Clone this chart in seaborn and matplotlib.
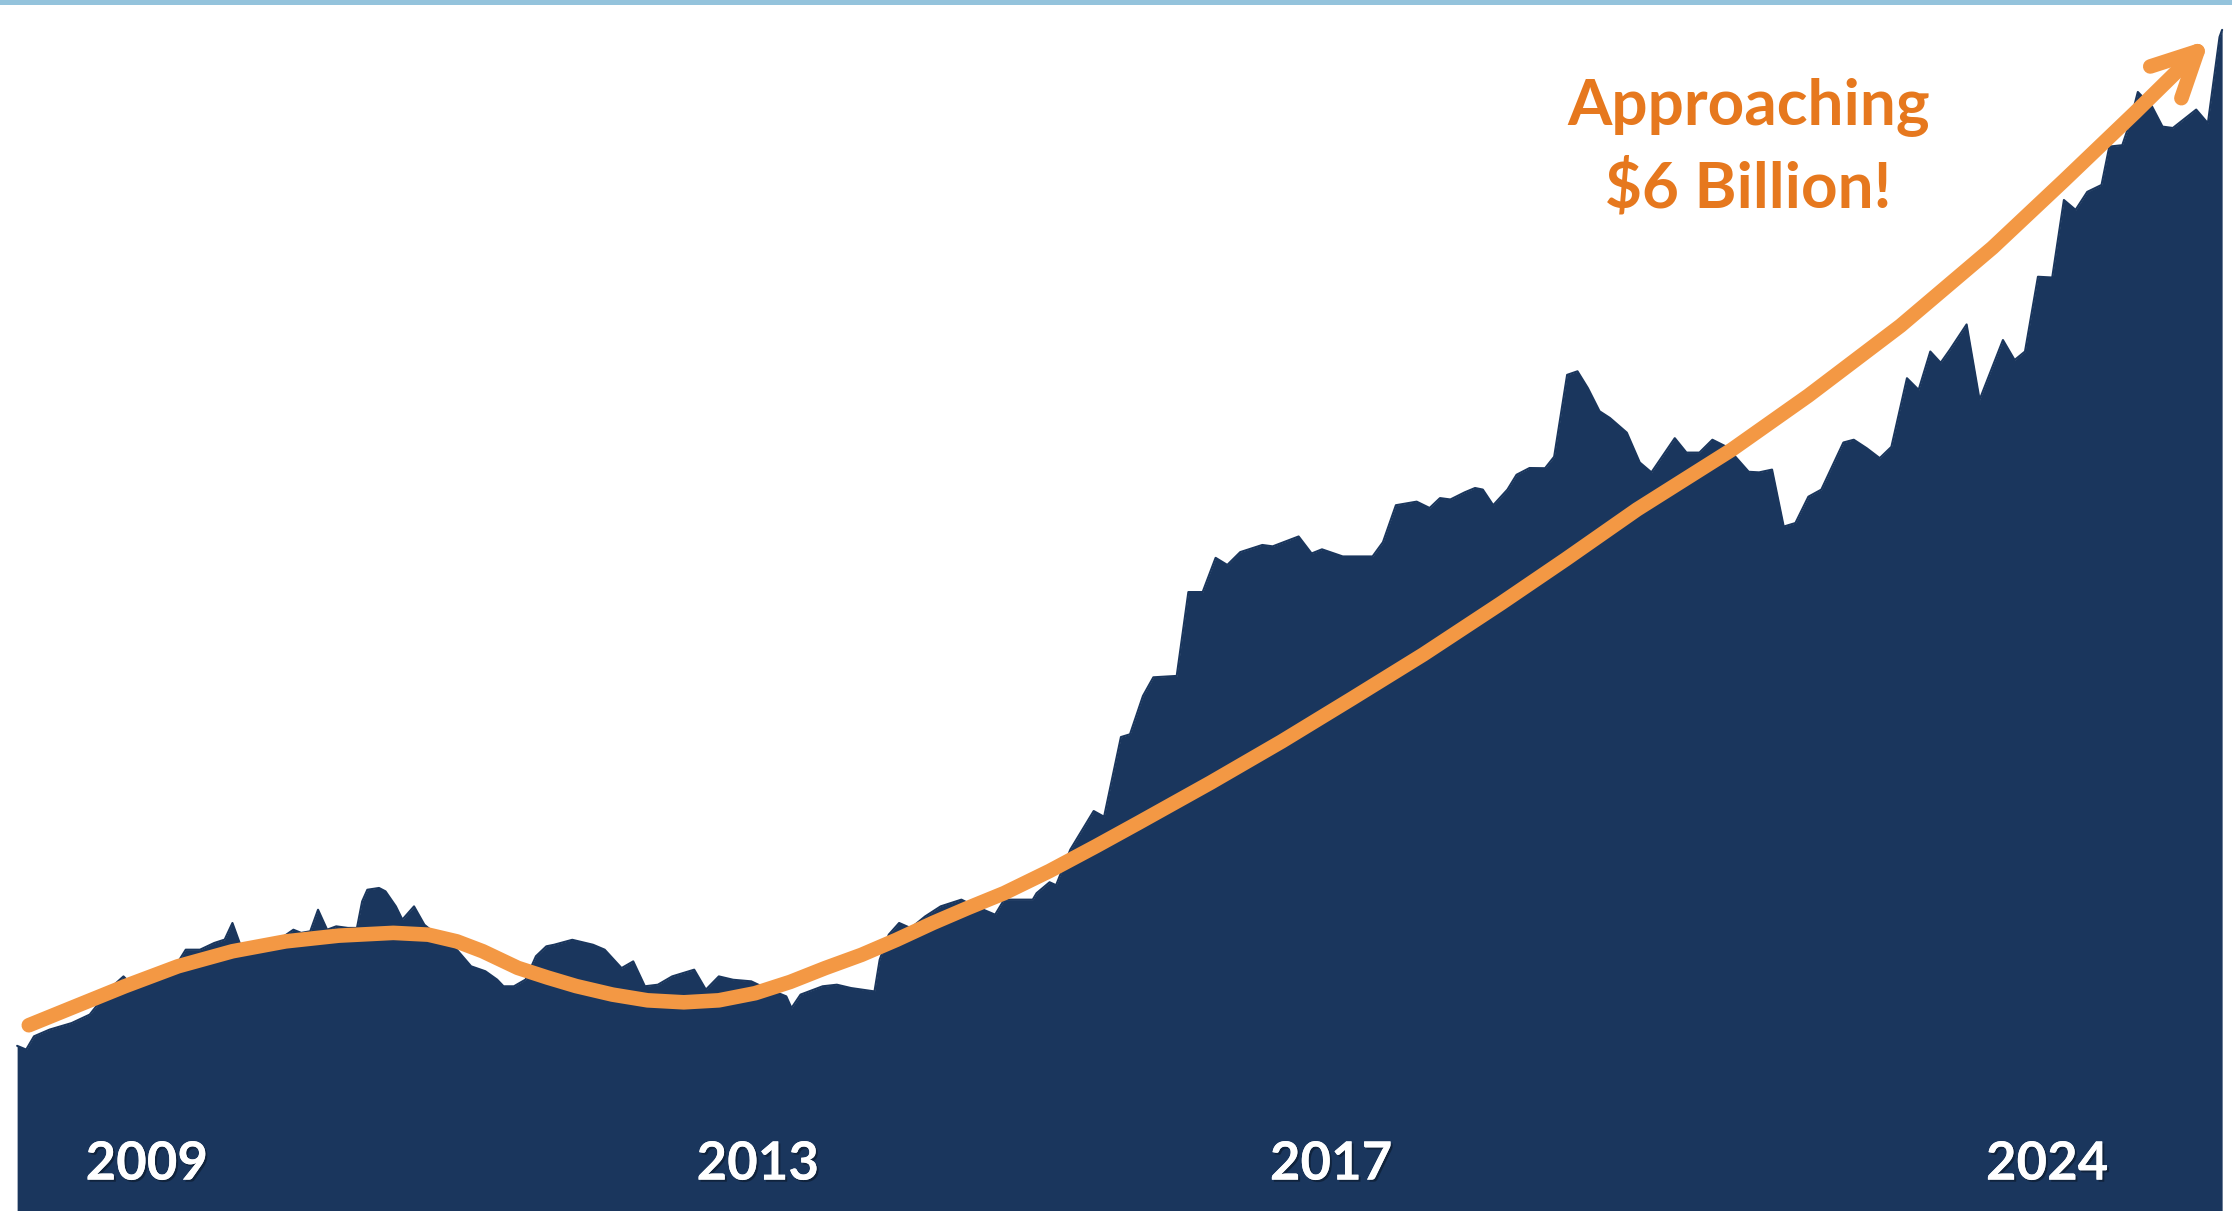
import numpy as np
import pandas as pd
import matplotlib
matplotlib.use("Agg")
import matplotlib.pyplot as plt
import matplotlib.patches as mpatches
import matplotlib.patheffects as pe
from matplotlib.path import Path
import seaborn as sns

# revenue history ($ billions)
years = [2008.00, 2008.07, 2008.13, 2008.25, 2008.42, 2008.56, 2008.72, 2008.82, 2008.87, 2009.00,
         2009.13, 2009.22, 2009.30, 2009.41, 2009.52, 2009.60, 2009.66, 2009.73, 2009.87, 2010.02,
         2010.13, 2010.19, 2010.26, 2010.32, 2010.39, 2010.46, 2010.55, 2010.62, 2010.66, 2010.70,
         2010.79, 2010.84, 2010.92, 2010.97, 2011.06, 2011.14, 2011.28, 2011.39, 2011.50, 2011.61,
         2011.70, 2011.75, 2011.83, 2011.92, 2012.00, 2012.08, 2012.14, 2012.28, 2012.44, 2012.53,
         2012.66, 2012.75, 2012.84, 2012.94, 2013.05, 2013.22, 2013.31, 2013.41, 2013.52, 2013.66,
         2013.74, 2013.93, 2013.97, 2014.04, 2014.21, 2014.32, 2014.43, 2014.61, 2014.65, 2014.72,
         2014.80, 2014.89, 2015.00, 2015.12, 2015.28, 2015.36, 2015.54, 2015.61, 2015.83, 2015.86,
         2015.96, 2016.01, 2016.12, 2016.30, 2016.38, 2016.51, 2016.58, 2016.68, 2016.76, 2016.94,
         2017.03, 2017.14, 2017.24, 2017.33, 2017.43, 2017.60, 2017.68, 2017.88, 2017.98, 2018.06,
         2018.22, 2018.45, 2018.53, 2018.63, 2018.79, 2018.89, 2018.97, 2019.05, 2019.16, 2019.24,
         2019.30, 2019.38, 2019.49, 2019.56, 2019.66, 2019.78, 2019.85, 2019.95, 2020.03, 2020.11,
         2020.20, 2020.28, 2020.41, 2020.51, 2020.60, 2020.78, 2020.87, 2020.97, 2021.07, 2021.18,
         2021.35, 2021.43, 2021.53, 2021.62, 2021.71, 2021.81, 2021.91, 2022.08, 2022.16, 2022.26,
         2022.36, 2022.45, 2022.57, 2022.66, 2022.75, 2022.83, 2022.90, 2023.03, 2023.13, 2023.31,
         2023.40, 2023.48, 2023.58, 2023.69, 2023.78, 2023.87, 2023.96, 2024.07, 2024.13, 2024.23,
         2024.29, 2024.35, 2024.46, 2024.54, 2024.62, 2024.80, 2024.89, 2024.98, 2025.00]
revenue = [0.835, 0.816, 0.883, 0.917, 0.950, 0.993, 1.127, 1.186, 1.153, 1.186,
           1.220, 1.237, 1.321, 1.321, 1.355, 1.372, 1.456, 1.329, 1.352, 1.372,
           1.422, 1.406, 1.414, 1.523, 1.422, 1.439, 1.431, 1.431, 1.565, 1.624,
           1.633, 1.616, 1.540, 1.473, 1.540, 1.447, 1.372, 1.321, 1.237, 1.212,
           1.170, 1.136, 1.136, 1.170, 1.288, 1.338, 1.346, 1.371, 1.346, 1.321,
           1.228, 1.262, 1.136, 1.144, 1.186, 1.220, 1.119, 1.186, 1.169, 1.161,
           1.136, 1.085, 1.026, 1.094, 1.136, 1.144, 1.127, 1.110, 1.270, 1.397,
           1.456, 1.430, 1.489, 1.540, 1.574, 1.548, 1.498, 1.574, 1.574, 1.607,
           1.662, 1.647, 1.827, 2.022, 1.993, 2.396, 2.410, 2.604, 2.698, 2.705,
           3.129, 3.129, 3.302, 3.266, 3.331, 3.367, 3.360, 3.410, 3.324, 3.345,
           3.309, 3.309, 3.381, 3.568, 3.586, 3.554, 3.604, 3.597, 3.633, 3.655,
           3.647, 3.568, 3.647, 3.722, 3.756, 3.755, 3.813, 4.227, 4.245, 4.160,
           4.043, 4.009, 3.935, 3.784, 3.734, 3.907, 3.834, 3.834, 3.899, 3.863,
           3.737, 3.734, 3.748, 3.460, 3.478, 3.611, 3.647, 3.885, 3.899, 3.856,
           3.806, 3.863, 4.210, 4.151, 4.345, 4.288, 4.353, 4.482, 4.101, 4.403,
           4.302, 4.345, 4.723, 4.719, 5.111, 5.061, 5.152, 5.187, 5.381, 5.388,
           5.504, 5.657, 5.583, 5.482, 5.475, 5.568, 5.499, 5.935, 5.971]

# hand-drawn trend arrow
trend_years = [2008.09, 2008.42, 2008.83, 2009.24, 2009.66, 2010.07, 2010.48, 2010.90, 2011.17, 2011.39,
               2011.59, 2011.86, 2012.09, 2012.31, 2012.59, 2012.86, 2013.14, 2013.41, 2013.69, 2013.96,
               2014.23, 2014.51, 2014.78, 2015.06, 2015.33, 2015.61, 2015.96, 2016.32, 2016.65, 2017.20,
               2017.75, 2018.29, 2018.84, 2019.44, 2019.94, 2020.49, 2021.22, 2021.81, 2022.52, 2023.23,
               2023.78, 2024.33, 2024.90]
trend_values = [0.939, 1.027, 1.136, 1.237, 1.313, 1.363, 1.392, 1.406, 1.397, 1.363,
                1.313, 1.229, 1.180, 1.137, 1.094, 1.065, 1.055, 1.065, 1.101, 1.158,
                1.228, 1.295, 1.371, 1.456, 1.532, 1.607, 1.719, 1.845, 1.964, 2.165,
                2.374, 2.590, 2.813, 3.072, 3.295, 3.547, 3.849, 4.122, 4.475, 4.870,
                5.209, 5.554, 5.921]

year_labels = ["2009", "2013", "2017", "2024"]
label_x = [2009.00, 2013.71, 2018.13, 2023.65]

navy = "#1A365D"
orange_line = "#F39844"
orange_text = "#E6781E"

df = pd.DataFrame({"year": years, "revenue": revenue})

sns.set_theme(style="white")
plt.rcParams["font.family"] = ["Lato", "DejaVu Sans"]

fig = plt.figure(figsize=(22.32, 12.11), dpi=100)
ax = fig.add_axes([0, 0, 1, 1])

sns.lineplot(data=df, x="year", y="revenue", ax=ax, color=navy, linewidth=1.5)
ax.fill_between(df["year"], df["revenue"], 0, color=navy, linewidth=0)

# trend curve with open arrow head
trend = mpatches.FancyArrowPatch(
    path=Path(np.column_stack([trend_years, trend_values])),
    arrowstyle="->,head_length=0.4,head_width=0.2", mutation_scale=80,
    color=orange_line, linewidth=10.5, capstyle="round", joinstyle="round", zorder=5)
ax.add_patch(trend)

shadow = [pe.withSimplePatchShadow(offset=(1.5, -1.5), shadow_rgbFace="black", alpha=0.35), pe.Normal()]
for lab, x in zip(year_labels, label_x):
    ax.text(x, 0.237, lab, color="white", fontsize=38, fontweight="bold",
            ha="center", va="center", zorder=6, path_effects=shadow)

ax.text(2021.35, 5.583, "Approaching", color=orange_text, fontsize=46,
        fontweight="bold", ha="center", va="center")
ax.text(2021.35, 5.173, "$6 Billion!", color=orange_text, fontsize=46,
        fontweight="bold", ha="center", va="center")

ax.set_xlim(2007.868, 2025.076)
ax.set_ylim(0, 6.122)
ax.axis("off")

# thin light-blue band along the top edge
fig.add_artist(mpatches.Rectangle((0, 1 - 5 / 1211), 1, 5 / 1211, transform=fig.transFigure,
                                  color="#94C3DC", linewidth=0))

plt.savefig("out.png", dpi=100)
